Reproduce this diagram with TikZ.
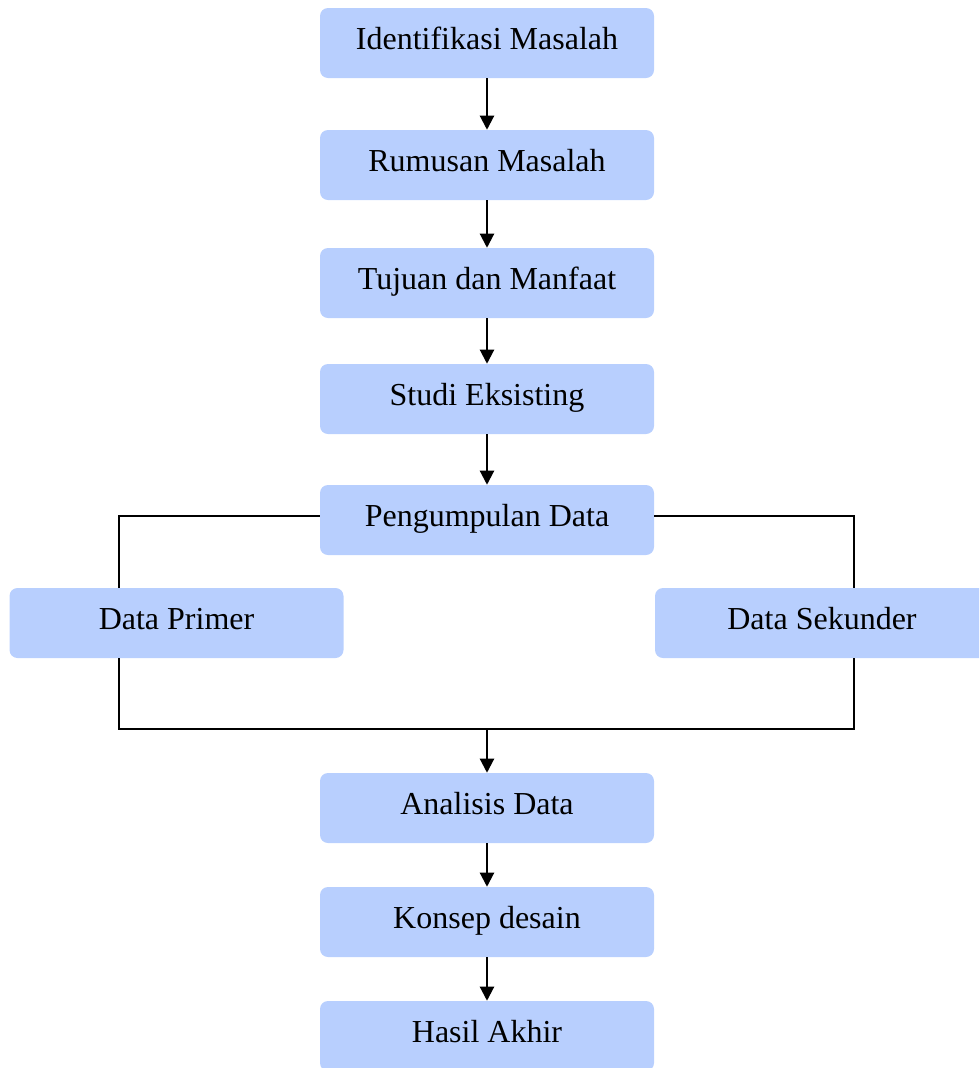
\documentclass[tikz,border=0pt]{standalone}
\usepackage{fontspec}
\setmainfont{Liberation Serif}
\usetikzlibrary{arrows.meta}
\definecolor{boxblue}{RGB}{184,207,254}
\tikzset{
  px/.style={x=0.75pt,y=-0.75pt},
  stepbox/.style={rectangle, fill=boxblue, draw=none, rounded corners=6pt,
    minimum width=250.5pt, minimum height=52.5pt, inner sep=0pt,
    text height=15pt, text depth=6pt,
    font=\fontsize{24pt}{28pt}\selectfont, text=black},
  flow/.style={line width=1.6pt, -{Triangle[length=10.5pt,width=10.5pt]}},
  link/.style={line width=1.1pt}
}
\begin{document}
\begin{tikzpicture}[px]
\useasboundingbox (0,0) rectangle (979,1068);
\clip (0,0) rectangle (979,1068);
\node[stepbox] (a) at (487,43) {Identifikasi Masalah};
\node[stepbox] (b) at (487,165) {Rumusan Masalah};
\node[stepbox] (c) at (487,283) {Tujuan dan Manfaat};
\node[stepbox] (d) at (487,399) {Studi Eksisting};
\node[stepbox] (e) at (487,520) {Pengumpulan Data};
\node[stepbox] (p) at (176.5,623) {Data Primer};
\node[stepbox] (s) at (822,623) {Data Sekunder};
\node[stepbox] (f) at (487,808) {Analisis Data};
\node[stepbox] (g) at (487,922) {Konsep desain};
\node[stepbox] (h) at (487,1036) {Hasil Akhir};
\coordinate (j) at (487,729);
\draw[flow] (a) -- (b);
\draw[flow] (b) -- (c);
\draw[flow] (c) -- (d);
\draw[flow] (d) -- (e);
\draw[link] (e.west |- 0,516) -| (119,588);
\draw[link] (e.east |- 0,516) -| (854,588);
\draw[link] (119,658) |- (j);
\draw[link] (854,658) |- (j);
\draw[flow] (j) -- (f);
\draw[flow] (f) -- (g);
\draw[flow] (g) -- (h);
\end{tikzpicture}
\end{document}
